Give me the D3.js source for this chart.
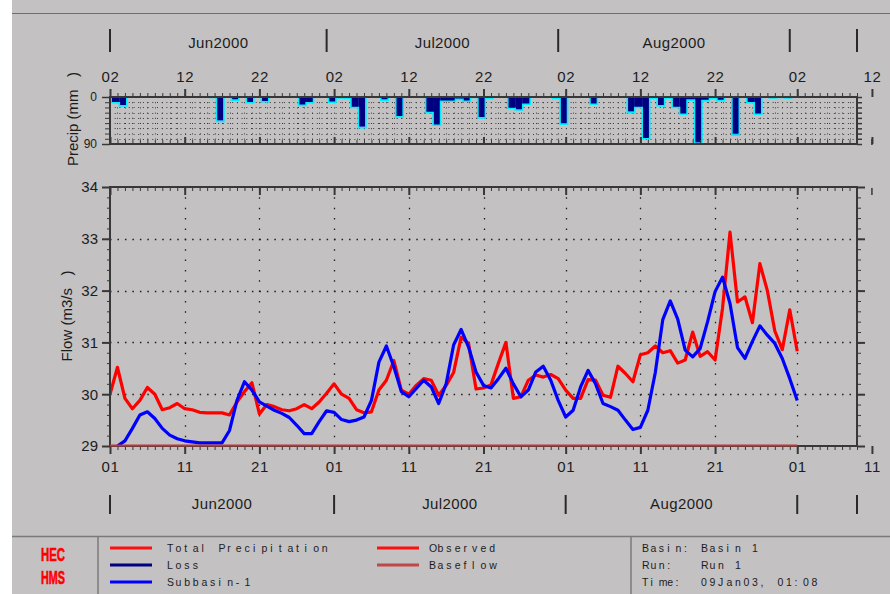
<!DOCTYPE html>
<html>
<head>
<meta charset="utf-8">
<script src="https://cdn.jsdelivr.net/npm/d3@7"></script>
<style>
  html, body { margin: 0; padding: 0; background: #ffffff; }
  svg { display: block; }
  text { font-family: "Liberation Sans", Arial, Helvetica, sans-serif; fill: #1c1c1c; }
  .mono { white-space: pre; }
</style>
</head>
<body>
<svg id="chart" width="890" height="594"></svg>
<script>
// ---- Run 1, Basin 1: daily results from 01Jun2000 ----
const startDate = "2000-06-01";
const axisEnd = "2000-09-09";

// Observed flow (m3/s), one value per day from startDate
const observedFlow = [
  30.00, 30.52, 29.92, 29.72, 29.88, 30.13, 30.00, 29.70, 29.74, 29.82,
  29.72, 29.70, 29.65, 29.64, 29.64, 29.64, 29.60, 29.85, 30.05, 30.22,
  29.62, 29.80, 29.76, 29.70, 29.68, 29.72, 29.80, 29.72, 29.85, 30.02,
  30.20, 30.00, 29.92, 29.70, 29.64, 29.66, 30.08, 30.27, 30.65, 30.08,
  30.00, 30.17, 30.30, 30.27, 29.98, 30.17, 30.42, 31.10, 30.98, 30.10,
  30.12, 30.18, 30.60, 31.00, 29.92, 29.95, 30.27, 30.37, 30.33, 30.38,
  30.30, 30.08, 29.92, 29.92, 30.28, 30.27, 29.98, 29.94, 30.54, 30.40,
  30.24, 30.76, 30.80, 30.93, 30.80, 30.84, 30.60, 30.66, 31.20, 30.73,
  30.82, 30.66, 31.66, 33.13, 31.78, 31.88, 31.38, 32.52, 32.00, 31.22,
  30.86, 31.63, 30.83
];

// Computed outflow of Subbasin-1 (m3/s), one value per day
const subbasinFlow = [
  28.90, 29.00, 29.10, 29.34, 29.60, 29.66, 29.53, 29.34, 29.21, 29.14,
  29.10, 29.08, 29.06, 29.06, 29.06, 29.06, 29.30, 29.88, 30.24, 30.08,
  29.85, 29.77, 29.69, 29.63, 29.55, 29.40, 29.24, 29.24, 29.47, 29.68,
  29.65, 29.51, 29.47, 29.50, 29.56, 29.88, 30.62, 30.93, 30.53, 30.05,
  29.95, 30.11, 30.27, 30.14, 29.82, 30.20, 30.95, 31.25, 30.91, 30.43,
  30.17, 30.12, 30.30, 30.50, 30.20, 29.95, 30.08, 30.43, 30.54, 30.27,
  29.88, 29.56, 29.69, 30.14, 30.46, 30.20, 29.82, 29.76, 29.69, 29.50,
  29.32, 29.36, 29.69, 30.42, 31.44, 31.80, 31.45, 30.85, 30.72, 30.88,
  31.40, 31.98, 32.26, 31.75, 30.90, 30.69, 31.02, 31.32, 31.14, 30.98,
  30.69, 30.30, 29.88
];

// Baseflow (m3/s)
const baseflowDates = ["2000-06-01", "2000-09-01"];
const baseflowValues = [29.0, 29.0];

// Daily precipitation (mm): day number after startDate, total depth, loss depth
const precipDays  = [0, 1, 13, 14, 16, 18, 20, 25, 26, 29, 30, 31, 32, 33, 36, 38, 42, 43, 44, 45,
                     46, 47, 48, 49, 50, 53, 54, 55, 59, 60, 64, 69, 70, 71, 72, 73, 74, 75, 76, 77,
                     78, 79, 80, 81, 83, 85, 86, 88, 89, 90];
const precipTotal = [11, 17, 1, 47, 6, 11, 9, 16, 11, 10, 2, 3, 20, 59, 6, 38, 30, 54, 8, 8,
                     4.5, 8, 1, 40, 3, 22, 25, 14, 3, 52, 14, 30, 20, 80, 3, 17, 3, 20, 33, 6,
                     89, 7, 3, 7, 73, 11, 33, 2, 1, 2];
const precipLoss  = [11, 17, 1, 44, 6, 11, 9, 16, 11, 10, 2, 3, 20, 56, 6, 38, 30, 54, 8, 8,
                     4.5, 8, 1, 40, 3, 22, 25, 14, 3, 52, 14, 27, 20, 80, 3, 17, 3, 20, 33, 6,
                     86, 7, 3, 7, 70, 11, 33, 2, 1, 2];

// Axis ticks and labels
const flowTicks = [29, 30, 31, 32, 33, 34];
const flowGrid = [30, 31, 32, 33];
const precipTicks = [0, 90];
const dateTicks = ["2000-06-01", "2000-06-11", "2000-06-21", "2000-07-01", "2000-07-11", "2000-07-21",
                   "2000-08-01", "2000-08-11", "2000-08-21", "2000-09-01", "2000-09-11"];
const monthLabels = ["Jun2000", "Jul2000", "Aug2000"];
const monthBandTop = ["2000-06-01", "2000-06-30", "2000-07-31", "2000-08-31", "2000-09-09"];
const monthBandBottom = ["2000-06-01", "2000-07-01", "2000-08-01", "2000-09-01", "2000-09-09"];

// Legend
const legendNames = ["Total Precipitation", "Loss", "Subbasin-1", "Observed", "Baseflow"];
const legendColors = ["#ff1010", "#000080", "#0000ff", "#ff1010", "#c04848"];
const infoKeys = ["Basin:", "Run:", "Time:"];
const infoValues = ["Basin 1", "Run 1", "09Jan03, 01:08"];

// ---- drawing ----
const svg = d3.select("#chart");
const parseDay = d3.timeParse("%Y-%m-%d");
const t0 = parseDay(startDate);
const dayAt = i => d3.timeDay.offset(t0, i);
const fmtDay = d3.timeFormat("%d");

const W = 890, H = 594;
const left = 110, right = 857;
const flowTop = 187, flowBottom = 446;
const pTop = 97, pBottom = 144;
const axisColor = "#383838";

const x = d3.scaleTime().domain([t0, parseDay(axisEnd)]).range([left, right]);
const yFlow = d3.scaleLinear().domain([29, 34]).range([flowBottom, flowTop]);
const yPrecip = d3.scaleLinear().domain([0, 90]).range([pTop, pBottom]);

const majorDates = dateTicks.map(parseDay);
const dailyDates = d3.timeDay.range(t0, d3.timeDay.offset(parseDay(axisEnd), 1));

// window background
svg.append("rect").attr("x", 12).attr("y", 0).attr("width", W - 12).attr("height", H)
  .attr("fill", "#c3c1c2");
svg.append("line").attr("x1", 12).attr("x2", W).attr("y1", 13.5).attr("y2", 13.5)
  .attr("stroke", "#6e6e6e").attr("stroke-width", 1);

const defs = svg.append("defs");
defs.append("clipPath").attr("id", "flowClip").append("rect")
  .attr("x", left).attr("y", flowTop).attr("width", right - left).attr("height", flowBottom - flowTop);
defs.append("clipPath").attr("id", "precipClip").append("rect")
  .attr("x", left).attr("y", pTop).attr("width", right - left).attr("height", pBottom - pTop);

function styleAxis(g, width) {
  g.select(".domain").remove();
  g.selectAll(".tick line").attr("stroke", axisColor).attr("stroke-width", width);
  g.selectAll(".tick text").attr("fill", "#1c1c1c");
}

// ---- month bands ----
function monthBand(dates, y1, y2, labelY) {
  const g = svg.append("g");
  const ds = dates.map(parseDay);
  g.selectAll("line").data(ds).join("line")
    .attr("x1", d => x(d)).attr("x2", d => x(d))
    .attr("y1", y1).attr("y2", y2)
    .attr("stroke", "#2a2a2a").attr("stroke-width", 2);
  g.selectAll("text").data(monthLabels).join("text")
    .attr("x", (d, i) => (x(ds[i]) + x(ds[i + 1])) / 2)
    .attr("y", labelY)
    .attr("text-anchor", "middle")
    .attr("font-size", 15)
    .attr("letter-spacing", 0.4)
    .text(d => d);
}
monthBand(monthBandTop, 29, 52, 47.5);
monthBand(monthBandBottom, 495, 514, 508.5);

// ---- precipitation panel ----
const pg = svg.append("g");
// dotted grid
pg.append("g").selectAll("line").data(d3.range(10, 90, 10)).join("line")
  .attr("x1", left).attr("x2", right)
  .attr("y1", d => Math.round(yPrecip(d)) + 0.5).attr("y2", d => Math.round(yPrecip(d)) + 0.5)
  .attr("stroke", "#3a3a3a").attr("stroke-width", 1).attr("stroke-dasharray", "1,3.7");
pg.append("g").selectAll("line").data(dailyDates.slice(1, -1)).join("line")
  .attr("x1", d => Math.round(x(d)) + 0.5).attr("x2", d => Math.round(x(d)) + 0.5)
  .attr("y1", pTop).attr("y2", pBottom)
  .attr("stroke", "#3a3a3a").attr("stroke-width", 1).attr("stroke-dasharray", "1,4.2");

// bars: total depth, loss over it, total outline as a step line
const barStart = i => x(d3.timeHour.offset(dayAt(i), 6));
const barEnd = i => x(d3.timeHour.offset(dayAt(i), 30));
const bars = pg.append("g").attr("clip-path", "url(#precipClip)");
bars.selectAll("rect.total").data(precipDays).join("rect").attr("class", "total")
  .attr("x", d => barStart(d)).attr("width", d => barEnd(d) - barStart(d))
  .attr("y", yPrecip(0)).attr("height", (d, i) => yPrecip(precipTotal[i]) - yPrecip(0))
  .attr("fill", "#3f68e8");
bars.selectAll("rect.loss").data(precipDays).join("rect").attr("class", "loss")
  .attr("x", d => barStart(d)).attr("width", d => barEnd(d) - barStart(d))
  .attr("y", yPrecip(0)).attr("height", (d, i) => yPrecip(precipLoss[i]) - yPrecip(0))
  .attr("fill", "#000080");
const depthByDay = new Map(precipDays.map((d, i) => [d, precipTotal[i]]));
const stepDays = d3.range(0, 100);
const stepLine = d3.line()
  .x(d => barStart(d))
  .y(d => yPrecip(depthByDay.get(d) || 0))
  .curve(d3.curveStepAfter);
bars.append("path").datum(stepDays).attr("d", stepLine)
  .attr("fill", "none").attr("stroke", "#00f0ff").attr("stroke-width", 1.6);

// frame and ticks of precipitation panel
pg.append("rect").attr("x", left).attr("y", pTop).attr("width", right - left).attr("height", pBottom - pTop)
  .attr("fill", "none").attr("stroke", axisColor).attr("stroke-width", 2);

const pTopMinor = pg.append("g").attr("transform", `translate(0,${pTop})`)
  .call(d3.axisTop(x).tickValues(dailyDates).tickSize(4).tickFormat(""));
styleAxis(pTopMinor, 1);
const pTopMajor = pg.append("g").attr("transform", `translate(0,${pTop})`)
  .call(d3.axisTop(x).tickValues(majorDates).tickSize(8).tickPadding(7)
    .tickFormat(d => fmtDay(d3.timeDay.offset(d, 1))));
styleAxis(pTopMajor, 2);
pTopMajor.selectAll("text").attr("font-size", 15).attr("font-family", null).attr("letter-spacing", 0.6);

const pBotMinor = pg.append("g").attr("transform", `translate(0,${pBottom})`)
  .call(d3.axisBottom(x).tickValues(dailyDates).tickSize(-4).tickFormat(""));
styleAxis(pBotMinor, 1);
const pBotMajor = pg.append("g").attr("transform", `translate(0,${pBottom})`)
  .call(d3.axisBottom(x).tickValues(majorDates).tickSize(-7).tickFormat(""));
styleAxis(pBotMajor, 2);
pg.append("line").attr("x1", x(majorDates[10])).attr("x2", x(majorDates[10]))
  .attr("y1", pBottom - 5).attr("y2", pBottom + 1).attr("stroke", axisColor).attr("stroke-width", 1.5);

const pLeftMinor = pg.append("g").attr("transform", `translate(${left},0)`)
  .call(d3.axisLeft(yPrecip).tickValues(d3.range(10, 90, 10)).tickSize(5).tickFormat(""));
styleAxis(pLeftMinor, 1);
const pLeft = pg.append("g").attr("transform", `translate(${left},0)`)
  .call(d3.axisLeft(yPrecip).tickValues(precipTicks).tickSize(8).tickPadding(5));
styleAxis(pLeft, 1.5);
pLeft.selectAll("text").attr("font-size", 12).attr("font-family", null);
const pRight = pg.append("g").attr("transform", `translate(${right},0)`)
  .call(d3.axisRight(yPrecip).tickValues(d3.range(0, 100, 10)).tickSize(5).tickFormat(""));
styleAxis(pRight, 1.5);

svg.append("text")
  .attr("class", "mono")
  .attr("transform", `translate(78,${(60 + 178) / 2}) rotate(-90)`)
  .attr("text-anchor", "middle")
  .attr("font-size", 15)
  .text("Precip (mm   )");

// ---- flow panel ----
const fg = svg.append("g");
fg.append("g").selectAll("line").data(flowGrid).join("line")
  .attr("x1", left).attr("x2", right)
  .attr("y1", d => Math.round(yFlow(d)) + 0.5).attr("y2", d => Math.round(yFlow(d)) + 0.5)
  .attr("stroke", "#1e1e1e").attr("stroke-width", 1.3).attr("stroke-dasharray", "1.5,5.97");
fg.append("g").selectAll("line").data(majorDates.slice(1, 10)).join("line")
  .attr("x1", d => Math.round(x(d)) + 0.5).attr("x2", d => Math.round(x(d)) + 0.5)
  .attr("y1", flowTop).attr("y2", flowBottom)
  .attr("stroke", "#1e1e1e").attr("stroke-width", 1.3).attr("stroke-dasharray", "1.5,8.86");

const lines = fg.append("g").attr("clip-path", "url(#flowClip)");
const flowLine = d3.line().x((d, i) => x(dayAt(i))).y(d => yFlow(d));
lines.append("path").datum(observedFlow).attr("d", flowLine)
  .attr("fill", "none").attr("stroke", "#ff0000").attr("stroke-width", 3.2)
  .attr("stroke-linejoin", "round");
lines.append("path").datum(subbasinFlow).attr("d", flowLine)
  .attr("fill", "none").attr("stroke", "#0000ff").attr("stroke-width", 3.2)
  .attr("stroke-linejoin", "round");

// frame and ticks of flow panel
fg.append("rect").attr("x", left).attr("y", flowTop).attr("width", right - left).attr("height", flowBottom - flowTop)
  .attr("fill", "none").attr("stroke", axisColor).attr("stroke-width", 2);

const minorFlow = d3.range(29, 34.001, 0.2).map(v => +v.toFixed(1));
const fLeftMinor = fg.append("g").attr("transform", `translate(${left},0)`)
  .call(d3.axisLeft(yFlow).tickValues(minorFlow).tickSize(3).tickFormat(""));
styleAxis(fLeftMinor, 1);
const fLeft = fg.append("g").attr("transform", `translate(${left},0)`)
  .call(d3.axisLeft(yFlow).tickValues(flowTicks).tickSize(8).tickPadding(4).tickFormat(d3.format("d")));
styleAxis(fLeft, 2);
fLeft.selectAll("text").attr("font-size", 15).attr("font-family", null);

const fRightMinor = fg.append("g").attr("transform", `translate(${right},0)`)
  .call(d3.axisRight(yFlow).tickValues(minorFlow).tickSize(4).tickFormat(""));
styleAxis(fRightMinor, 1);
const fRight = fg.append("g").attr("transform", `translate(${right},0)`)
  .call(d3.axisRight(yFlow).tickValues(flowTicks).tickSize(8).tickFormat(""));
styleAxis(fRight, 2);

const fTopMinor = fg.append("g").attr("transform", `translate(0,${flowTop})`)
  .call(d3.axisTop(x).tickValues(dailyDates).tickSize(-4).tickFormat(""));
styleAxis(fTopMinor, 1);
const fTopMajor = fg.append("g").attr("transform", `translate(0,${flowTop})`)
  .call(d3.axisTop(x).tickValues(majorDates.slice(0, 10)).tickSize(-8).tickFormat(""));
styleAxis(fTopMajor, 2);
fg.append("line").attr("x1", x(majorDates[10])).attr("x2", x(majorDates[10]))
  .attr("y1", flowTop + 1).attr("y2", flowTop + 8).attr("stroke", axisColor).attr("stroke-width", 1.5);

const fBotMinor = fg.append("g").attr("transform", `translate(0,${flowBottom})`)
  .call(d3.axisBottom(x).tickValues(dailyDates).tickSize(4).tickFormat(""));
styleAxis(fBotMinor, 1);
const fBotMajor = fg.append("g").attr("transform", `translate(0,${flowBottom})`)
  .call(d3.axisBottom(x).tickValues(majorDates).tickSize(8).tickPadding(7).tickFormat(fmtDay));
styleAxis(fBotMajor, 2);
fBotMajor.selectAll("text").attr("font-size", 15).attr("font-family", null).attr("letter-spacing", 0.6);

// baseflow drawn along the bottom edge
fg.append("path").datum(baseflowDates.map((d, i) => [parseDay(d), baseflowValues[i]]))
  .attr("d", d3.line().x(d => x(d[0])).y(d => yFlow(d[1]) - 0.5))
  .attr("fill", "none").attr("stroke", "#b83a3a").attr("stroke-width", 2);

svg.append("text")
  .attr("class", "mono")
  .attr("transform", `translate(72,316) rotate(-90)`)
  .attr("text-anchor", "middle")
  .attr("font-size", 15)
  .text("Flow (m3/s   )");

// ---- legend strip ----
const lg = svg.append("g");
lg.append("line").attr("x1", 12).attr("x2", W).attr("y1", 536.5).attr("y2", 536.5)
  .attr("stroke", "#7a7a7a").attr("stroke-width", 1.5);
lg.append("line").attr("x1", 98).attr("x2", 98).attr("y1", 537).attr("y2", H)
  .attr("stroke", "#7a7a7a").attr("stroke-width", 1.5);
lg.append("line").attr("x1", 631).attr("x2", 631).attr("y1", 537).attr("y2", H)
  .attr("stroke", "#7a7a7a").attr("stroke-width", 1.5);

// program logo
[["HEC", 561], ["HMS", 584]].forEach(([s, y]) => {
  lg.append("text").attr("x", 41).attr("y", y)
    .attr("font-family", "'DejaVu Serif', 'Liberation Serif', serif")
    .attr("font-weight", "bold").attr("font-size", 18)
    .attr("textLength", 24).attr("lengthAdjust", "spacingAndGlyphs")
    .attr("stroke", "#ff0000").attr("stroke-width", 0.6)
    .style("fill", "#ff0000")
    .text(s);
});

// fixed-pitch text
function pitchText(g, str, x0, y, pitch) {
  return g.append("text").attr("class", "mono")
    .attr("x", Array.from(str, (c, i) => (x0 + i * pitch).toFixed(1)).join(" "))
    .attr("y", y)
    .attr("font-size", 10.5)
    .attr("fill", "#141414")
    .text(str);
}

const legendRows = [548, 565, 582];
legendNames.forEach((name, i) => {
  const col = i < 3 ? 0 : 1;
  const row = i < 3 ? i : i - 3;
  const lx = col === 0 ? 110 : 377;
  const tx = col === 0 ? 167 : 429;
  lg.append("line").attr("x1", lx).attr("x2", lx + 42)
    .attr("y1", legendRows[row]).attr("y2", legendRows[row])
    .attr("stroke", legendColors[i]).attr("stroke-width", 3);
  pitchText(lg, name, tx, legendRows[row] + 4, 8.6);
});

infoKeys.forEach((k, i) => {
  pitchText(lg, k, 642, legendRows[i] + 4, 8.4);
  pitchText(lg, infoValues[i], 701, legendRows[i] + 4, 8.5);
});
</script>
</body>
</html>
